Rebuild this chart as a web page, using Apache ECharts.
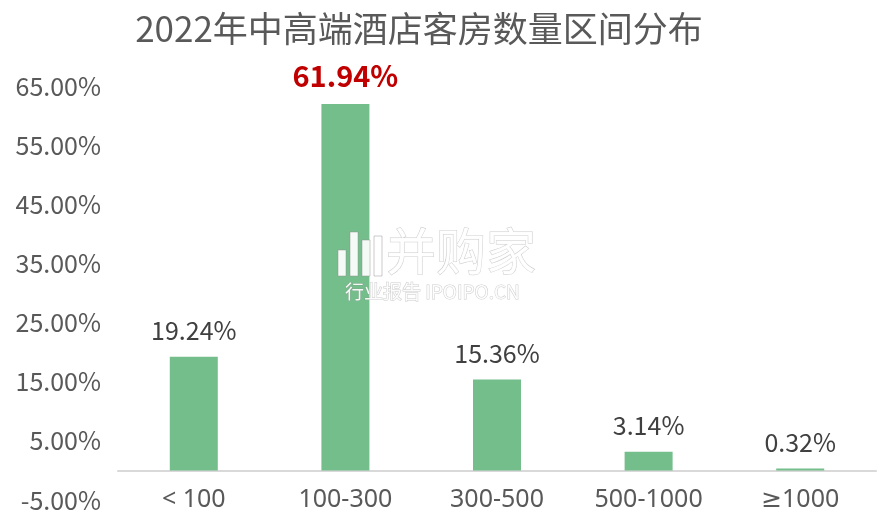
<!DOCTYPE html>
<html><head><meta charset="utf-8">
<script src="https://cdn.jsdelivr.net/npm/echarts@6/dist/echarts.min.js"></script>
<style>html,body{margin:0;padding:0;background:#fff}#c{width:886px;height:525px}</style>
</head><body><div id="c"></div>
<script>
const categories = ['< 100', '100-300', '300-500', '500-1000', '≥1000'];
const values = [19.24, 61.94, 15.36, 3.14, 0.32];
const highlightIndex = 1;
const title = '2022年中高端酒店客房数量区间分布';

const chart = echarts.init(document.getElementById('c'));
const font = '"Noto Sans CJK SC", "Noto Sans", sans-serif';
const latinFont = '"Noto Sans", "DejaVu Sans", "Noto Sans CJK SC", sans-serif';
const wmStyle = { fill: 'rgba(255,255,255,0.92)', stroke: 'rgba(140,140,140,0.45)', lineWidth: 1 };
chart.setOption({
  animation: false,
  title: {
    text: title, left: 414, top: 6, textAlign: 'center',
    textStyle: { fontFamily: font, fontSize: 35, fontWeight: 'normal', color: '#595959' }
  },
  graphic: [
    { type: 'group', z: 100, silent: true, children: [
      { type: 'rect', shape: { x: 338, y: 250, width: 8, height: 26 }, style: Object.assign({}, wmStyle), z: 100 },
      { type: 'rect', shape: { x: 350, y: 232, width: 8, height: 44 }, style: Object.assign({}, wmStyle), z: 100 },
      { type: 'rect', shape: { x: 362, y: 240, width: 8, height: 36 }, style: Object.assign({}, wmStyle), z: 100 },
      { type: 'rect', shape: { x: 374, y: 236, width: 8, height: 40 }, style: Object.assign({}, wmStyle), z: 100 },
      { type: 'text', x: 386, y: 226, z: 100,
        style: Object.assign({ text: '并购家', font: '50px ' + font }, wmStyle) },
      { type: 'text', x: 345, y: 282, z: 100,
        style: Object.assign({ text: '行业报告 IPOIPO.CN', font: '19px ' + font }, wmStyle) }
    ] }
  ],
  grid: { left: 118, right: 10, top: 86, bottom: 25, containLabel: false, outerBoundsMode: 'none' },
  xAxis: {
    type: 'category', data: categories,
    axisLine: { lineStyle: { color: '#d9d9d9', width: 2 } },
    axisTick: { show: false },
    axisLabel: { fontFamily: latinFont, fontSize: 25, color: '#595959', margin: -13 }
  },
  yAxis: {
    type: 'value', min: -5, max: 65, interval: 10,
    splitLine: { show: false },
    axisLine: { show: false }, axisTick: { show: false },
    axisLabel: { fontFamily: font, fontSize: 25, color: '#595959', margin: 17,
      formatter: v => v.toFixed(2) + '%' }
  },
  series: [{
    type: 'bar', barWidth: 48, z: 1,
    data: values.map((v, i) => ({
      value: v,
      label: i === highlightIndex ? { color: '#c00000', fontWeight: 'bold', fontSize: 29 } : {}
    })),
    itemStyle: { color: '#74be8b' },
    label: { show: true, position: 'top', distance: 14, fontFamily: font, fontSize: 25, color: '#404040',
      formatter: p => p.value.toFixed(2) + '%' }
  }]
});
</script></body></html>
